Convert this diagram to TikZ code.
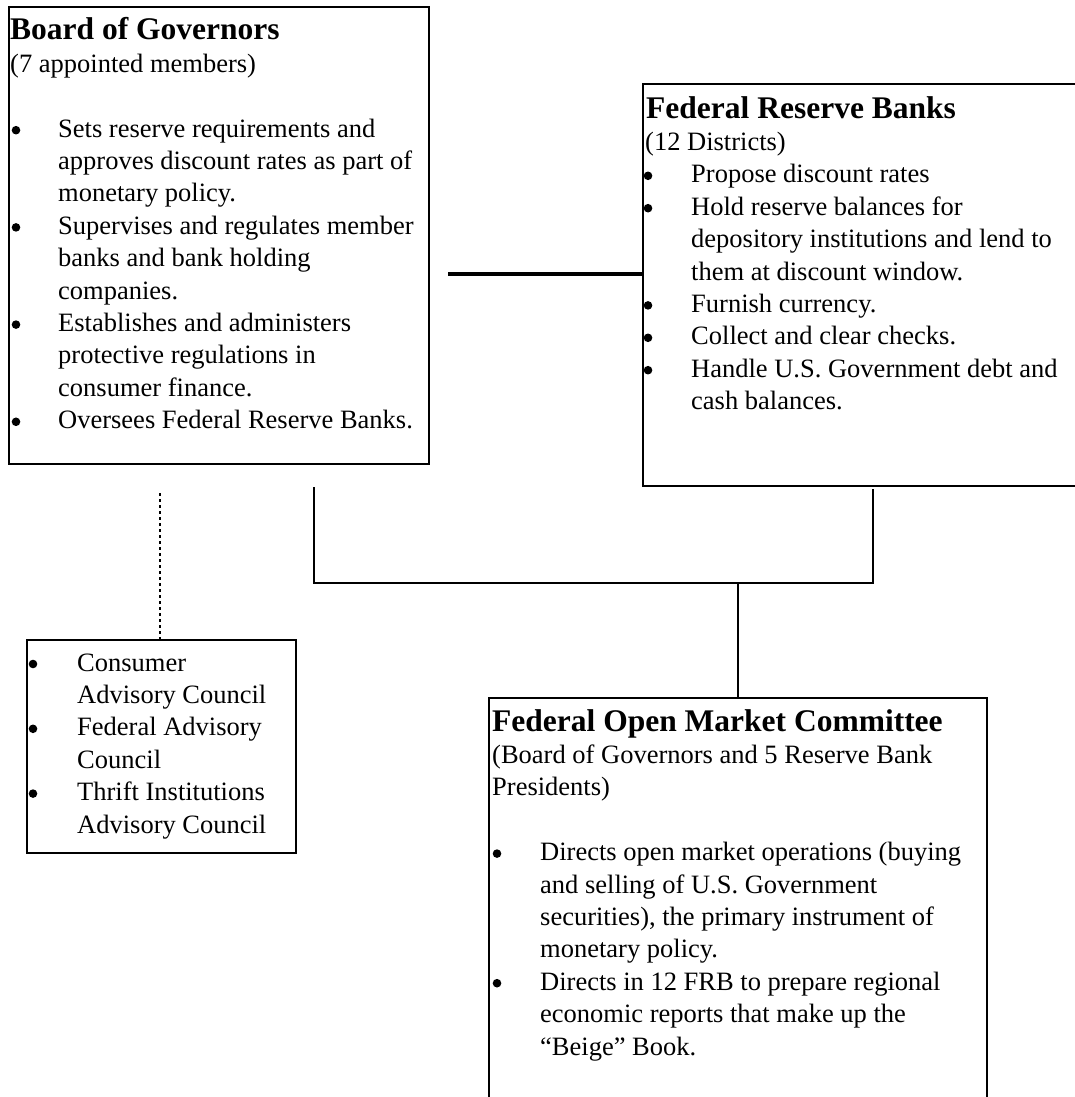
\documentclass[tikz,border=0pt]{standalone}
\usepackage{fontspec}
\setmainfont{Liberation Serif}
\newcommand\bodyfont{\fontsize{26.5}{32.4}\selectfont}
\newcommand\ttl[1]{{\fontsize{31.5}{32.4}\selectfont\bfseries #1}}
\newcommand\bdot{\tikz[x=1pt,y=1pt,baseline=0pt]{\fill[black] (0,7) circle (4.3pt);}}
\newcommand\bul[2]{\makebox[#1][l]{\hspace*{#2}\bdot}}
\newcommand\hng[1]{\hspace*{#1}}
\begin{document}
\begin{tikzpicture}[x=1pt,y=-1pt,
  box/.style={draw=black, line width=1.6pt, inner sep=0pt, anchor=north west},
  txt/.style={anchor=base west, inner sep=0pt, font=\bodyfont},
  conn/.style={line width=1.4pt},
  thicklink/.style={line width=3.5pt},
  advlink/.style={line width=1.4pt, dash pattern=on 3pt off 3pt}]
\useasboundingbox (0,0) rectangle (1074,1097);

% boxes
\node[box, minimum width=420pt, minimum height=457pt] (board) at (8,6) {};
\node[box, minimum width=460pt, minimum height=402pt] (frb) at (642,83) {};
\node[box, minimum width=269pt, minimum height=213pt] (adv) at (26,639) {};
\node[box, minimum width=498pt, minimum height=420pt] (fomc) at (488,697) {};

% texts
\node[txt] (boardtext) at (10,40) {\begin{tabular}[t]{@{}l@{}}
\ttl{Board of Governors}\\
(7 appointed members)\\
\\
\bul{48pt}{1.5pt}Sets reserve requirements and\\
\hng{48pt}approves discount rates as part of\\
\hng{48pt}monetary policy.\\
\bul{48pt}{1.5pt}Supervises and regulates member\\
\hng{48pt}banks and bank holding\\
\hng{48pt}companies.\\
\bul{48pt}{1.5pt}Establishes and administers\\
\hng{48pt}protective regulations in\\
\hng{48pt}consumer finance.\\
\bul{48pt}{1.5pt}Oversees Federal Reserve Banks.
\end{tabular}};

\node[txt] (frbtext) at (645,118) {\begin{tabular}[t]{@{}l@{}}
\hng{1pt}\ttl{Federal Reserve Banks}\\
(12 Districts)\\
\bul{46pt}{-1.5pt}Propose discount rates\\
\bul{46pt}{-1.5pt}Hold reserve balances for\\
\hng{46pt}depository institutions and lend to\\
\hng{46pt}them at discount window.\\
\bul{46pt}{-1.5pt}Furnish currency.\\
\bul{46pt}{-1.5pt}Collect and clear checks.\\
\bul{46pt}{-1.5pt}Handle U.S. Government debt and\\
\hng{46pt}cash balances.
\end{tabular}};

\node[txt] (advtext) at (28,671) {\begin{tabular}[t]{@{}l@{}}
\bul{49pt}{0.5pt}Consumer\\
\hng{49pt}Advisory Council\\
\bul{49pt}{0.5pt}Federal Advisory\\
\hng{49pt}Council\\
\bul{49pt}{0.5pt}Thrift Institutions\\
\hng{49pt}Advisory Council
\end{tabular}};

\node[txt] (fomctext) at (492,731) {\begin{tabular}[t]{@{}l@{}}
\ttl{Federal Open Market Committee}\\
(Board of Governors and 5 Reserve Bank\\
Presidents)\\
\\
\bul{48pt}{0.5pt}Directs open market operations (buying\\
\hng{48pt}and selling of U.S. Government\\
\hng{48pt}securities), the primary instrument of\\
\hng{48pt}monetary policy.\\
\bul{48pt}{0.5pt}Directs in 12 FRB to prepare regional\\
\hng{48pt}economic reports that make up the\\
\hng{48pt}“Beige” Book.
\end{tabular}};

% connectors
\coordinate (thickstart) at (448,274);
\draw[thicklink] (thickstart) -- (thickstart -| frb.west);

\coordinate (dotstart) at (160,493);
\draw[advlink] (dotstart) -- (dotstart |- adv.north);

\coordinate (boardleg) at (314,487);
\coordinate (frbleg) at (873,489);
\coordinate (junc) at (738,583);
\draw[conn] (boardleg) |- (junc) -| (frbleg);
\draw[conn] (junc) -- (junc |- fomc.north);
\end{tikzpicture}
\end{document}
